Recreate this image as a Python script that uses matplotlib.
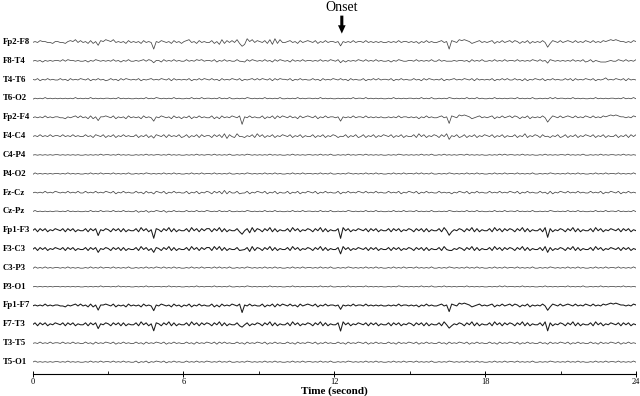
import numpy as np
import matplotlib
matplotlib.use("Agg")
import matplotlib.pyplot as plt
from matplotlib.transforms import blended_transform_factory

channels = ["Fp2-F8", "F8-T4", "T4-T6", "T6-O2", "Fp2-F4", "F4-C4", "C4-P4", "P4-O2",
            "Fz-Cz", "Cz-Pz", "Fp1-F3", "F3-C3", "C3-P3", "P3-O1", "Fp1-F7", "F7-T3",
            "T3-T5", "T5-O1"]

# background activity, one digit per 0.1 s (baseline 4.5)
traces = {
 "Fp2-F8": "4546554435" "5443565746" "4536354657" "6574545364" "5453645455" "4654536453"
           "5674536454" "4635273646" "4736285746" "5463728374" "4564536456" "5463546455"
           "4565454645" "5464545454" "4545464554" "5453546454" "4564546547" "6765345645"
           "4563546456" "4653546354" "5464536546" "4565464546" "5464546567" "6765545465",
 "F8-T4":  "4545354545" "5464655454" "4535465454" "5464535464" "4545646545" "5364546454"
           "4645465645" "5463546454" "4645364654" "5464536465" "4536454645" "5454645465"
           "4645354546" "5464546454" "4535465445" "5464545464" "4645464545" "5453645464"
           "4546454645" "5464545465" "4645465454" "5454645463" "4635433345" "4465464546",
 "T4-T6":  "5463546454" "4645364546" "5463546453" "4645364654" "5463545645" "4654636454"
           "5463546465" "4645364546" "5463545646" "4654636465" "5463546454" "4645364546"
           "5464536454" "4635464645" "5463546454" "4645364654" "5463545645" "4654636454"
           "5463546464" "4645363546" "5463546454" "4646364546" "5463545745" "4654636454",
 "T6-O2":  "3545464545" "4545454645" "4546454545" "5454645454" "4545464546" "5454546454"
           "4546454645" "5454645464" "4545465454" "5464545464" "4545464545" "5454645454"
           "4545454645" "5464545454" "4546454545" "5454645464" "4545465454" "5464546454"
           "4546454545" "5464545464" "4545464645" "5454645454" "4546454545" "5454645464",
 "Fp2-F4": "4545464545" "5443545646" "4536354556" "5463545364" "5453645465" "4654536453"
           "5463546454" "4635364546" "5463546454" "4635463646" "5464536456" "5463546455"
           "4565454645" "5464545454" "4545464554" "5453546454" "4564546547" "6765345645"
           "4563546456" "4653546354" "5464536546" "4565464546" "5464546567" "6765545465",
 "F4-C4":  "4546454645" "5464546454" "4645365463" "5463546454" "4635463546" "5463645463"
           "4635463645" "5364637264" "3746354637" "4635463546" "5463546354" "4635463546"
           "5364635463" "4635463546" "5463546354" "4637463546" "5364735463" "4635463546"
           "5463546354" "4635473546" "5364635463" "4635463546" "5463546354" "4635463646",
 "C4-P4":  "4545454545" "5454545454" "4545454645" "5454645454" "4545464545" "5454645454"
           "4545464545" "5464545464" "4545465454" "5454645454" "4546454545" "5454645464"
           "4545464545" "5464545454" "4545465454" "5454645464" "4546454545" "5464545454"
           "4545464645" "5454645454" "4546454545" "5464545464" "4545464545" "5454645454",
 "P4-O2":  "3645454545" "5454645454" "4546454645" "5464545464" "4545465454" "5464546454"
           "4546454645" "5464545464" "4545465454" "5464546454" "4546454645" "5454645464"
           "4545465454" "5464546454" "4546454645" "5464645464" "4545465454" "5464546454"
           "4546454645" "5464545464" "4545465454" "5464546454" "4546454645" "5464545464",
 "Fz-Cz":  "4545464546" "5454645464" "4645464546" "5463546454" "4645364546" "5463546454"
           "4635463546" "5364637364" "4635463546" "5463546354" "4635463546" "5463546454"
           "4645464546" "5464546454" "4645463546" "5463546454" "4645463546" "5463546454"
           "4645464546" "5463546454" "4645463546" "5464546454" "4645463546" "5463546454",
 "Cz-Pz":  "4645454545" "5454645454" "4546454645" "5464546454" "4635463546" "5463546454"
           "4645464546" "5454645464" "4545465454" "5464546454" "4546454645" "5454645464"
           "4545465454" "5464546454" "4546454645" "5464545464" "4545465454" "5464546454"
           "4546454645" "5464545464" "4545465454" "5464546454" "4546454645" "5464545464",
 "Fp1-F3": "4636463546" "5463646354" "4636463546" "5364636354" "4637463546" "5364736354"
           "4637463646" "6364736354" "4637462736" "5364736354" "4637463546" "5364736354"
           "4637463546" "5463646354" "4636463546" "5364636354" "4637463546" "5364736354"
           "4637463646" "5364736354" "4637463546" "5364736354" "4637463546" "5463646354",
 "F3-C3":  "4636463546" "5463646354" "4636463546" "5364636354" "4637463546" "5364736354"
           "4637463646" "6374736354" "4637462736" "5364736354" "4637463546" "5364736354"
           "4637463546" "5463646354" "4636463546" "5364636354" "4637463546" "5364736354"
           "4637463646" "5364736354" "4637463546" "5364736354" "4637463546" "5463646354",
 "C3-P3":  "3645464545" "5454645454" "4546454645" "5464545464" "4545464546" "5464546454"
           "4546454645" "5464645464" "4545465454" "5464546454" "4546454645" "5454645464"
           "4545465454" "5464546454" "4546454645" "5464545464" "4545465454" "5464546454"
           "4546454645" "5464545464" "4545465454" "5464546454" "4546454645" "5464545464",
 "P3-O1":  "4545454545" "5454545454" "4545454645" "5454645454" "4545464545" "5454645454"
           "4545464545" "5464545464" "4545465454" "5454645454" "4546454545" "5454645464"
           "4545464545" "5464545454" "4545465454" "5454645464" "4546454545" "5464545454"
           "4545464645" "5454645454" "4546454545" "5464545464" "4545464545" "5454645454",
 "Fp1-F7": "4545464545" "5443545646" "4536354556" "5463545364" "5453645465" "4654536453"
           "5463546454" "4635364546" "5463546454" "4635463646" "5464536456" "5463546455"
           "4565454645" "5464545454" "4545464554" "5453546454" "4564546547" "6765345645"
           "4563546456" "4653546354" "5464536546" "4565464546" "5464546567" "6765545465",
 "F7-T3":  "4636463546" "5463646354" "4636463546" "5364636354" "4637463546" "5364736354"
           "4637463646" "5364736354" "4637463546" "5364736354" "4637463546" "5364736354"
           "4637463546" "5463646354" "4636463546" "5364636354" "4637463546" "5364736354"
           "4637463646" "5364736354" "4637463546" "5364736354" "4637463546" "5463646354",
 "T3-T5":  "4546454645" "5464546454" "4645364546" "5463546454" "4645364546" "5463546454"
           "4645364546" "5463646454" "4645364546" "5463546454" "4645364546" "5463546454"
           "4645364546" "5463546454" "4645364546" "5463546454" "4645364546" "5463546454"
           "4645364546" "5463546454" "4645364546" "5463546454" "4645364546" "5463546454",
 "T5-O1":  "4645454545" "5454645454" "4546454645" "5464546454" "4635463546" "5463546454"
           "4645464546" "5454645464" "4545465454" "5464546454" "4546454645" "5454645464"
           "4545465454" "5464546454" "4546454645" "5464545464" "4545465454" "5464546454"
           "4546454645" "5464545464" "4545465454" "5464546454" "4546454645" "5464545464",
}

# per-channel amplitude (units per digit)
gain = {"Fp2-F8": 0.050, "F8-T4": 0.042, "T4-T6": 0.038, "T6-O2": 0.032, "Fp2-F4": 0.050,
        "F4-C4": 0.050, "C4-P4": 0.028, "P4-O2": 0.032, "Fz-Cz": 0.045, "Cz-Pz": 0.032,
        "Fp1-F3": 0.055, "F3-C3": 0.052, "C3-P3": 0.034, "P3-O1": 0.028, "Fp1-F7": 0.050,
        "F7-T3": 0.052, "T3-T5": 0.038, "T5-O1": 0.032}

# epileptiform spikes: times (s) and per-channel depths
spike_times = [2.6, 4.85, 8.3, 12.3, 16.6, 20.5]
spike_depth = {
    "Fp2-F8": [0.15, 0.40, 0.30, 0.28, 0.35, 0.30],
    "F8-T4":  [0.00, 0.08, 0.05, 0.08, 0.08, 0.10],
    "Fp2-F4": [0.15, 0.28, 0.30, 0.28, 0.30, 0.28],
    "F4-C4":  [0.00, 0.08, 0.10, 0.08, 0.10, 0.08],
    "Fz-Cz":  [0.00, 0.05, 0.05, 0.05, 0.05, 0.05],
    "Fp1-F3": [0.20, 0.40, 0.35, 0.35, 0.35, 0.35],
    "F3-C3":  [0.10, 0.15, 0.18, 0.18, 0.15, 0.15],
    "Fp1-F7": [0.22, 0.35, 0.30, 0.28, 0.30, 0.28],
    "F7-T3":  [0.15, 0.32, 0.28, 0.28, 0.28, 0.32],
}
strong = {"Fp1-F3", "F3-C3", "Fp1-F7", "F7-T3"}

x_ticks = [0, 6, 12, 18, 24]
onset_time = 12.3

fig = plt.figure(figsize=(6.4, 3.96), dpi=100)
ax = fig.add_axes([0.0508, 0.0556, 0.9430, 0.8888])

for k, ch in enumerate(channels):
    s = traces[ch]
    v = (np.array([int(c) for c in s], dtype=float) - 4.5) * gain[ch]
    t = np.linspace(0, 24, len(v))
    for st, d in zip(spike_times, spike_depth.get(ch, [0] * len(spike_times))):
        i = int(np.argmin(np.abs(t - st)))
        v[i] -= d
    if ch in strong:
        ax.plot(t, v - k, color="#1a1a1a", lw=0.75)
    else:
        ax.plot(t, v - k, color="#444444", lw=0.55)

ax.set_xlim(0, 24)
ax.set_ylim(-17.64, 1.063)
ax.set_yticks([])
for sp in ["left", "right", "top"]:
    ax.spines[sp].set_visible(False)
ax.spines["bottom"].set_linewidth(0.8)
ax.set_xticks(x_ticks)
ax.set_xticks([3, 9, 15, 21], minor=True)
ax.tick_params(axis="x", which="major", direction="inout", length=4, width=0.7,
               labelsize=6, pad=1)
ax.tick_params(axis="x", which="minor", direction="in", length=2, width=0.6)
for lab in ax.get_xticklabels():
    lab.set_fontfamily("Liberation Serif")
ax.set_xlabel("Time (second)", fontfamily="Liberation Serif", fontweight="bold",
              fontsize=8, labelpad=0)

tr = blended_transform_factory(fig.transFigure, ax.transData)
for k, ch in enumerate(channels):
    ax.text(3 / 640, -k, ch, transform=tr, ha="left", va="center",
            fontfamily="Liberation Serif", fontweight="bold", fontsize=6.3)

ax.annotate("", xy=(onset_time, 0.3), xytext=(onset_time, 1.55),
            arrowprops=dict(arrowstyle="simple,head_length=0.6,head_width=0.55,tail_width=0.22",
                            color="black", lw=0), annotation_clip=False)
ax.text(onset_time, 1.85, "Onset", ha="center", va="center", fontsize=10,
        fontfamily="Liberation Serif", clip_on=False)

fig.savefig("out.png", dpi=100)
